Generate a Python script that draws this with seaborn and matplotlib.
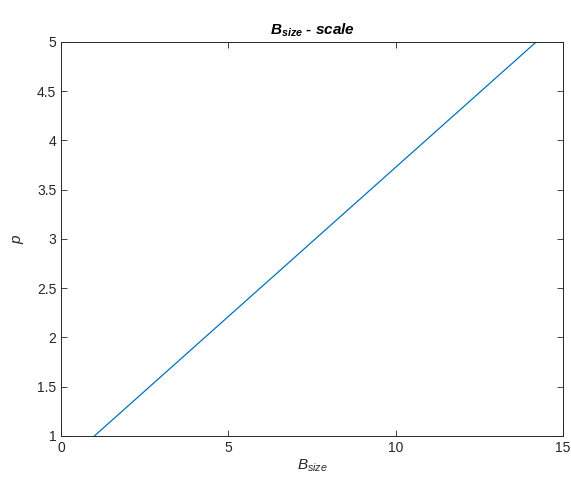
import numpy as np
import pandas as pd
import seaborn as sns
import matplotlib.pyplot as plt

# values
b_size = [1.0, 14.2]
p = [1.0, 5.0]
x_ticks = [0, 5, 10, 15]
y_ticks = [1, 1.5, 2, 2.5, 3, 3.5, 4, 4.5, 5]

sns.set_style("ticks")
plt.rcParams['font.family'] = ['Liberation Sans', 'DejaVu Sans']
plt.rcParams['mathtext.fontset'] = 'custom'
plt.rcParams['mathtext.rm'] = 'Liberation Sans'
plt.rcParams['mathtext.it'] = 'Liberation Sans:italic'
plt.rcParams['mathtext.bf'] = 'Liberation Sans:bold'
plt.rcParams['mathtext.bfit'] = 'Liberation Sans:bold:italic'

df = pd.DataFrame({'B_size': b_size, 'p': p})

fig = plt.figure(figsize=(5.71, 4.93), dpi=100)
ax = fig.add_axes([0.107, 0.116, 0.879, 0.799])
sns.lineplot(data=df, x='B_size', y='p', ax=ax, color='#0072BD', linewidth=0.9)

ax.set_xlim(0, 15)
ax.set_ylim(1, 5)
ax.set_xticks(x_ticks)
ax.set_yticks(y_ticks)
ax.set_yticklabels([f'{v:g}' for v in y_ticks])

txt = '#262626'
for s in ax.spines.values():
    s.set_visible(True)
    s.set_color(txt)
    s.set_linewidth(0.7)
ax.tick_params(direction='in', top=True, right=True, length=4, width=0.6,
               colors=txt, labelsize=10, labelcolor=txt)

ax.set_xlabel(r'$\mathit{B}_{\mathit{size}}$', fontsize=11, color=txt, labelpad=2)
ax.set_ylabel(r'$\mathit{p}$', fontsize=11, color=txt, labelpad=8)
ax.set_title(r'$\mathbfit{B}_{\mathbfit{size}}$ - scale', fontsize=11,
             fontweight='bold', fontstyle='italic', color='black', pad=5)

fig.savefig('out.png', dpi=100, facecolor='white')
